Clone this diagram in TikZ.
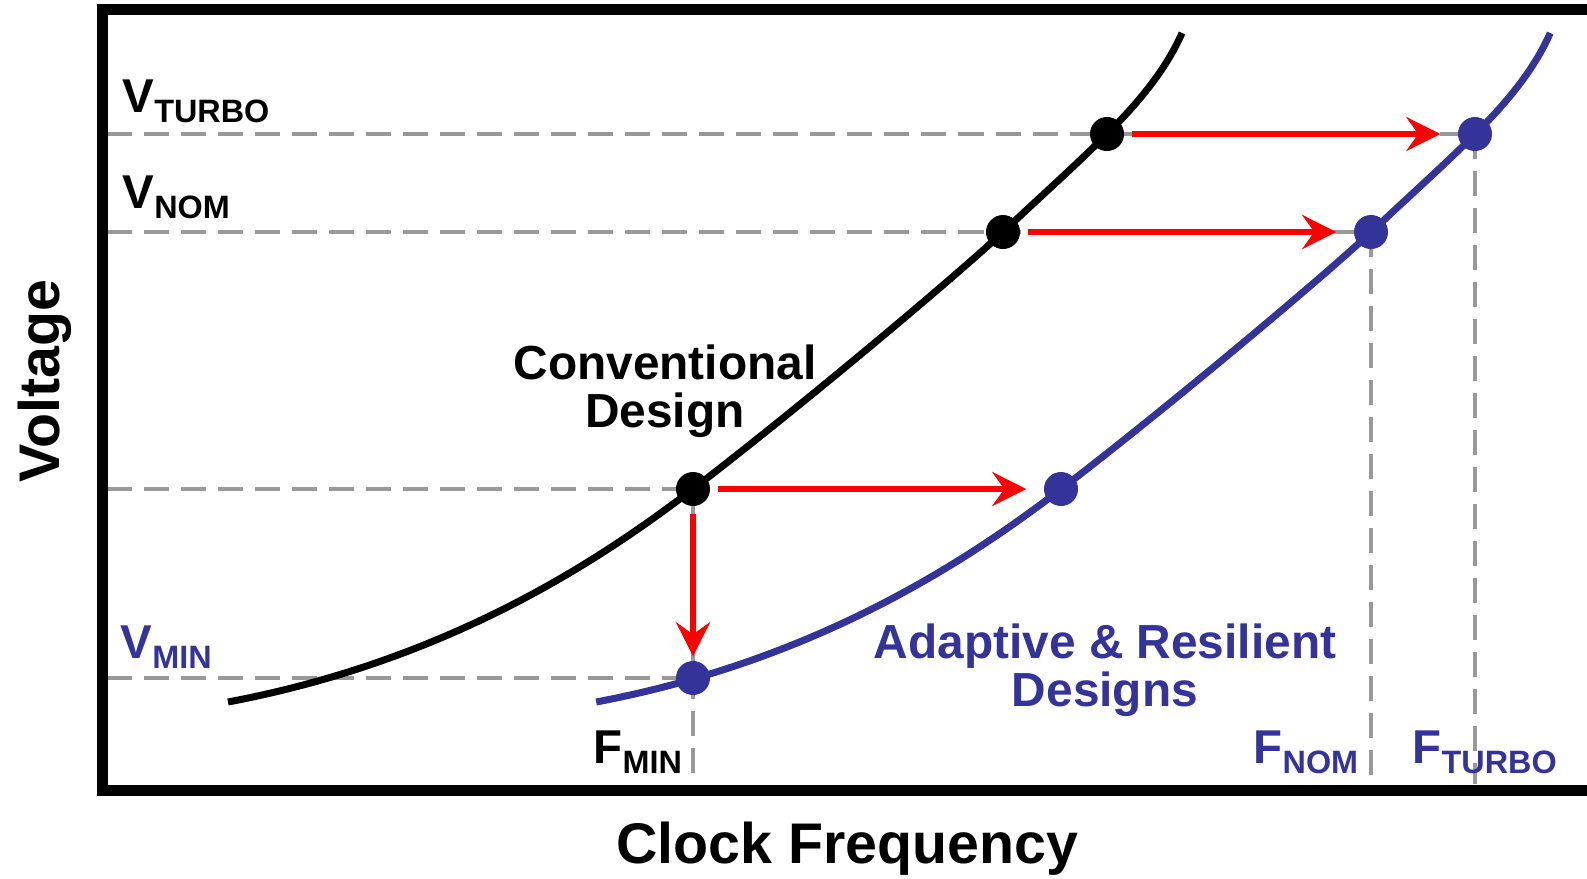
\documentclass[tikz,border=0pt]{standalone}
\usepackage{fontspec}
\setmainfont{Liberation Sans}
\usepackage{xcolor}
\usepackage{tikz}
\usetikzlibrary{arrows.meta,backgrounds}

\definecolor{adblue}{RGB}{51,51,153}
\definecolor{guidegray}{RGB}{153,153,153}

\newcommand{\sublabel}[2]{{\fontsize{13.5}{16}\selectfont #1}\raisebox{-3pt}{\fontsize{9.2}{10}\selectfont #2}}

\begin{document}
\begin{tikzpicture}[
  x=0.01cm, y=-0.01cm,
  >=Stealth,
  every node/.style={font=\bfseries, inner sep=0pt},
  frame/.style={line width=0.11cm},
  guide/.style={draw=guidegray, line width=0.04cm, dash pattern=on 0.25cm off 0.12cm},
  curve/.style={line width=0.07cm},
  convcurve/.style={curve, black},
  adcurve/.style={curve, adblue},
  dot/.style={circle, inner sep=0pt, minimum size=0.34cm},
  convdot/.style={dot, fill=black},
  addot/.style={dot, fill=adblue},
  gain/.style={-{Stealth[length=0.34cm, width=0.34cm, inset=0.12cm]}, red,
    line width=0.065cm, shorten <=0.07cm, shorten >=0.17cm},
  axislabel/.style={font=\bfseries\fontsize{16.3}{18}\selectfont},
  curvelabel/.style={align=center, font=\bfseries\fontsize{13.6}{13.7}\selectfont},
  levellabel/.style={anchor=base west},
]
\useasboundingbox (0,0) rectangle (1587,878);

% ========= Frame (open on the right) =========
\draw[frame] (1587,9.5) -- (102.5,9.5) -- (102.5,790) -- (1587,790);
\coordinate (yaxis) at (107,0);
\coordinate (xaxis) at (0,784);

% ========= Curves: adaptive = conventional shifted right =========
\draw[convcurve] (228,702) .. controls (450,660) and (600,560) .. (693,489)
  .. controls (800,407) and (955,277) .. (1003,232)
  .. controls (1040,197) and (1075,166) .. (1107,134)
  .. controls (1135,106) and (1165,72) .. (1182,33);
\draw[adcurve, xshift=3.68cm] (228,702) .. controls (450,660) and (600,560) .. (693,489)
  .. controls (800,407) and (955,277) .. (1003,232)
  .. controls (1040,197) and (1075,166) .. (1107,134)
  .. controls (1135,106) and (1165,72) .. (1182,33);

% ========= Operating points =========
\node[convdot] at (1107,134) (cturbo) {};
\node[convdot] at (1003,232) (cnom) {};
\node[convdot] at (693,489) (cmid) {};
\node[addot] at (1475,134) (aturbo) {};
\node[addot] at (1371,232) (anom) {};
\node[addot] at (1061,489) (amid) {};
\node[addot] at (693,678) (amin) {};

% ========= Guide lines =========
\begin{scope}[on background layer]
\draw[guide] (yaxis |- aturbo) -- (aturbo.center);
\draw[guide] (yaxis |- anom) -- (anom.center);
\draw[guide] (yaxis |- cmid) -- (cmid.center);
\draw[guide] (yaxis |- amin) -- (amin.center);
\draw[guide] (cmid.center) -- (cmid |- xaxis);
\draw[guide] (anom.center) -- (anom |- xaxis);
\draw[guide] (aturbo.center) -- (aturbo |- xaxis);
\end{scope}

% ========= Gains =========
\draw[gain] (cturbo) -- (aturbo);
\draw[gain] (cnom) -- (anom);
\draw[gain] (cmid) -- (amid);
\draw[gain, shorten >=0.04cm] (cmid) -- (amin);

% ========= Level labels =========
\node[levellabel] at (122,112) (vturbo) {\sublabel{V}{TURBO}};
\node[levellabel] at (122,208) (vnom) {\sublabel{V}{NOM}};
\node[levellabel, text=adblue] at (120,658) (vmin) {\sublabel{V}{MIN}};
\node[levellabel] at (593,763) (fmin) {\sublabel{F}{MIN}};
\node[levellabel, text=adblue] at (1253,763) (fnom) {\sublabel{F}{NOM}};
\node[levellabel, text=adblue] at (1412,763) (fturbo) {\sublabel{F}{TURBO}};

% ========= Curve and axis labels =========
\node[curvelabel] at (665,391) (convlabel) {Conventional\\Design};
\node[curvelabel, text=adblue] at (1105,670) (adlabel) {Adaptive \& Resilient\\Designs};
\node[axislabel, rotate=90, anchor=base] at (60,381) (volt) {Voltage};
\node[axislabel, anchor=base] at (847,863) (freq) {Clock Frequency};

\end{tikzpicture}
\end{document}
